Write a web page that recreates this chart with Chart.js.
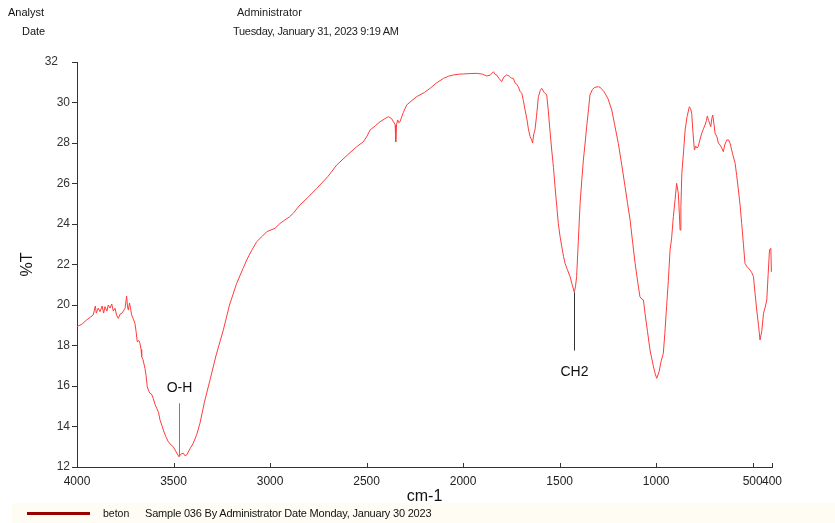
<!DOCTYPE html>
<html>
<head>
<meta charset="utf-8">
<script src="https://cdn.jsdelivr.net/npm/chart.js@4.4.1/dist/chart.umd.min.js"></script>
<style>
  html, body { margin: 0; padding: 0; background: #fff; }
  #wrap { position: relative; width: 835px; height: 523px; overflow: hidden; font-family: "Liberation Sans", Arial, sans-serif; }
  #c { position: absolute; left: 0; top: 0; }
  .t { position: absolute; white-space: nowrap; color: #111; font-size: 11px; line-height: 12px; }
  #foot { position: absolute; left: 12px; top: 503px; width: 823px; height: 20px; background: #fffdf3; }
  #legline { position: absolute; left: 27px; top: 512px; width: 63px; height: 3px; background: #990000; }
</style>
</head>
<body>
<div id="wrap">
  <div id="foot"></div>
  <canvas id="c" width="835" height="523"></canvas>
  <div class="t" style="left:8px; top:6px;">Analyst</div>
  <div class="t" style="left:22px; top:25px;">Date</div>
  <div class="t" style="left:237px; top:6px; color:#222;">Administrator</div>
  <div class="t" style="left:233px; top:25px; color:#222; letter-spacing:-0.3px;">Tuesday, January 31, 2023 9:19 AM</div>
  <div id="legline"></div>
  <div class="t" style="left:103px; top:507px; font-size:10.5px;">beton</div>
  <div class="t" style="left:145px; top:507px; font-size:11px; letter-spacing:-0.2px;">Sample 036 By Administrator Date Monday, January 30 2023</div>
</div>
<script>
// ---- data ----
const wavenumbers = [
  4000,3975,3950,3930,3916,3905,3900,3890,3881,3870,3862,3855,3845,3838,3829,3820,3812,3803,3795,3786,
  3777,3768,3760,3751,3743,3738,3734,3728,3722,3717,3708,3700,3694,3688,3680,3674,3668,3665,3658,3648,
  3642,3636,3628,3622,3614,3605,3596,3587,3578,3570,3560,3553,3540,3527,3514,3501,3487,3472,3460,3449,
  3440,3432,3415,3398,3380,3363,3340,3311,3280,3242,3210,3173,3140,3121,3095,3069,3040,3017,2974,2948,
  2923,2900,2880,2845,2800,2758,2700,2655,2600,2551,2517,2500,2482,2455,2430,2405,2387,2370,2361,2352,
  2349,2345,2339,2333,2327,2310,2292,2265,2240,2200,2171,2140,2102,2075,2051,2020,1999,1960,1930,1900,
  1878,1860,1843,1835,1826,1815,1800,1790,1774,1760,1750,1740,1730,1722,1714,1705,1696,1688,1679,1670,
  1662,1653,1645,1640,1635,1628,1620,1610,1600,1593,1580,1567,1559,1550,1541,1532,1524,1515,1507,1498,
  1489,1480,1472,1460,1446,1435,1424,1418,1412,1403,1394,1385,1377,1368,1360,1350,1343,1330,1317,1300,
  1291,1275,1265,1250,1230,1215,1196,1178,1161,1148,1135,1122,1109,1095,1084,1075,1066,1058,1045,1032,
  1015,1005,997,985,975,963,955,946,937,928,920,911,902,894,885,876,872,867,858,850,
  840,828,822,816,810,802,795,788,782,775,764,755,747,740,735,728,717,712,707,700,
  695,685,678,669,660,652,645,634,625,617,605,591,583,574,565,557,548,540,530,514,
  505,496,488,479,470,462,453,444,435,427,420,413,406,403
];
const transmittance = [
  18.93,19.05,19.26,19.4,19.51,19.95,19.6,19.85,19.67,19.95,19.6,19.92,19.7,20.0,19.85,20.05,19.7,19.84,19.5,19.34,
  19.55,19.59,19.7,19.84,20.44,19.9,19.75,20.1,19.8,19.51,19.3,19.1,18.7,18.19,18.25,18.11,17.8,17.45,17.3,16.87,
  16.5,15.96,15.75,15.64,15.6,15.39,15.1,14.9,14.7,14.32,14.05,13.83,13.5,13.25,13.1,13.0,12.75,12.51,12.65,12.68,
  12.55,12.59,12.9,13.17,13.6,14.16,15.2,16.3,17.5,18.77,20.0,21.07,21.8,22.22,22.7,23.13,23.4,23.62,23.79,24.03,
  24.2,24.35,24.53,24.94,25.35,25.76,26.35,26.91,27.4,27.82,28.06,28.3,28.64,28.85,29.05,29.2,29.3,29.2,29.05,28.9,
  28.06,28.9,29.14,29.0,29.05,29.5,29.88,30.1,30.29,30.5,30.7,30.95,31.19,31.3,31.36,31.4,31.41,31.43,31.44,31.4,
  31.31,31.35,31.52,31.4,31.36,31.2,31.03,31.25,31.36,31.3,31.2,31.19,30.95,30.9,30.78,30.55,30.45,30.1,29.63,29.2,
  28.7,28.31,28.15,28.0,28.4,28.64,29.3,30.29,30.6,30.7,30.5,30.37,29.63,28.6,27.65,26.8,25.84,24.9,24.03,23.4,
  22.88,22.4,22.06,21.75,21.4,21.0,20.63,20.9,21.4,23.2,25.02,26.2,27.16,28.0,28.81,29.7,30.37,30.65,30.75,30.78,
  30.75,30.6,30.45,30.2,29.63,28.9,27.98,26.9,25.84,25.0,24.2,23.1,22.06,21.1,20.41,20.3,20.25,19.6,18.7,17.78,
  17.0,16.6,16.38,16.7,17.2,17.61,18.6,19.92,21.2,22.72,23.3,24.36,25.2,26.01,25.5,23.7,24.8,26.5,27.6,28.64,
  29.3,29.79,29.7,29.47,28.6,27.65,27.85,27.75,27.82,28.1,28.48,28.7,28.89,29.1,29.33,29.1,28.81,29.2,29.38,28.9,
  28.48,28.3,28.0,27.9,27.75,27.57,27.9,28.15,28.15,27.98,27.5,27.0,26.4,25.68,24.9,24.03,23.0,22.06,21.9,21.73,
  21.6,21.4,20.6,19.75,19.0,18.27,18.7,19.59,19.9,20.25,21.5,22.72,22.8,21.64
];
const xTickValues = [4000, 3500, 3000, 2500, 2000, 1500, 1000, 500, 400];
const yTickValues = [12, 14, 16, 18, 20, 22, 24, 26, 28, 30, 32];
const peakLabels = ["O-H", "CH2"];
const peakPositions = [3472, 1424];
const peakLineTop = [15.15, 20.62];
const peakLineBottom = [12.51, 17.75];
const peakLabelY = [15.9, 16.7];

const points = wavenumbers.map((w, i) => ({ x: w, y: transmittance[i] }));

const annotPlugin = {
  id: 'annot',
  afterDatasetsDraw(chart) {
    const ctx = chart.ctx, xs = chart.scales.x, ys = chart.scales.y;
    ctx.save();
    ctx.strokeStyle = '#333';
    ctx.lineWidth = 1;
    xTickValues.forEach(v => {
      const px = Math.round(xs.getPixelForValue(v)) + 0.5;
      ctx.beginPath();
      ctx.moveTo(px, ys.bottom);
      ctx.lineTo(px, ys.bottom - 4);
      ctx.stroke();
    });
    peakLabels.forEach((lab, i) => {
      const px = Math.round(xs.getPixelForValue(peakPositions[i])) + 0.5;
      ctx.strokeStyle = i === 0 ? '#808080' : '#333';
      ctx.beginPath();
      ctx.moveTo(px, ys.getPixelForValue(peakLineTop[i]));
      ctx.lineTo(px, ys.getPixelForValue(peakLineBottom[i]));
      ctx.stroke();
      ctx.fillStyle = '#111';
      ctx.font = '14px "Liberation Sans", Arial, sans-serif';
      ctx.textAlign = 'center';
      ctx.textBaseline = 'middle';
      ctx.fillText(lab, px, ys.getPixelForValue(peakLabelY[i]));
    });
    ctx.restore();
  }
};

new Chart(document.getElementById('c'), {
  type: 'line',
  data: {
    datasets: [{
      label: 'beton',
      data: points,
      borderColor: '#ff3b3b',
      borderWidth: 1,
      pointRadius: 0,
      tension: 0,
      fill: false
    }]
  },
  options: {
    responsive: false,
    animation: false,
    events: [],
    layout: { padding: { left: 0, top: 62, right: 63, bottom: 0 } },
    plugins: { legend: { display: false }, tooltip: { enabled: false } },
    scales: {
      x: {
        type: 'linear',
        min: 400,
        max: 4000,
        reverse: true,
        afterBuildTicks: s => { s.ticks = xTickValues.map(v => ({ value: v })); },
        afterFit: s => { s.height = 56; },
        grid: { display: false, drawTicks: false },
        border: { display: true, color: '#333', width: 1 },
        ticks: {
          autoSkip: false, maxRotation: 0, padding: 7,
          color: '#222',
          font: { family: '"Liberation Sans", Arial, sans-serif', size: 12 },
          callback: v => String(v)
        },
        title: {
          display: true, text: 'cm-1', color: '#111',
          font: { family: '"Liberation Sans", Arial, sans-serif', size: 16 },
          padding: { top: 0, bottom: 17 }
        }
      },
      y: {
        min: 12,
        max: 32,
        afterBuildTicks: s => { s.ticks = yTickValues.map(v => ({ value: v })); },
        afterFit: s => { s.width = 77; },
        grid: { drawOnChartArea: false, drawTicks: true, tickLength: 5, color: '#333' },
        border: { display: true, color: '#333', width: 1 },
        ticks: {
          padding: 2, color: '#333',
          font: { family: '"Liberation Sans", Arial, sans-serif', size: 12 },
          callback: v => (v === 32 ? '32\u2003' : String(v))
        },
        title: {
          display: true, text: '%T', color: '#111',
          font: { family: '"Liberation Sans", Arial, sans-serif', size: 16 },
          padding: { top: 18, bottom: 0 }
        }
      }
    }
  },
  plugins: [annotPlugin]
});
</script>
</body>
</html>
